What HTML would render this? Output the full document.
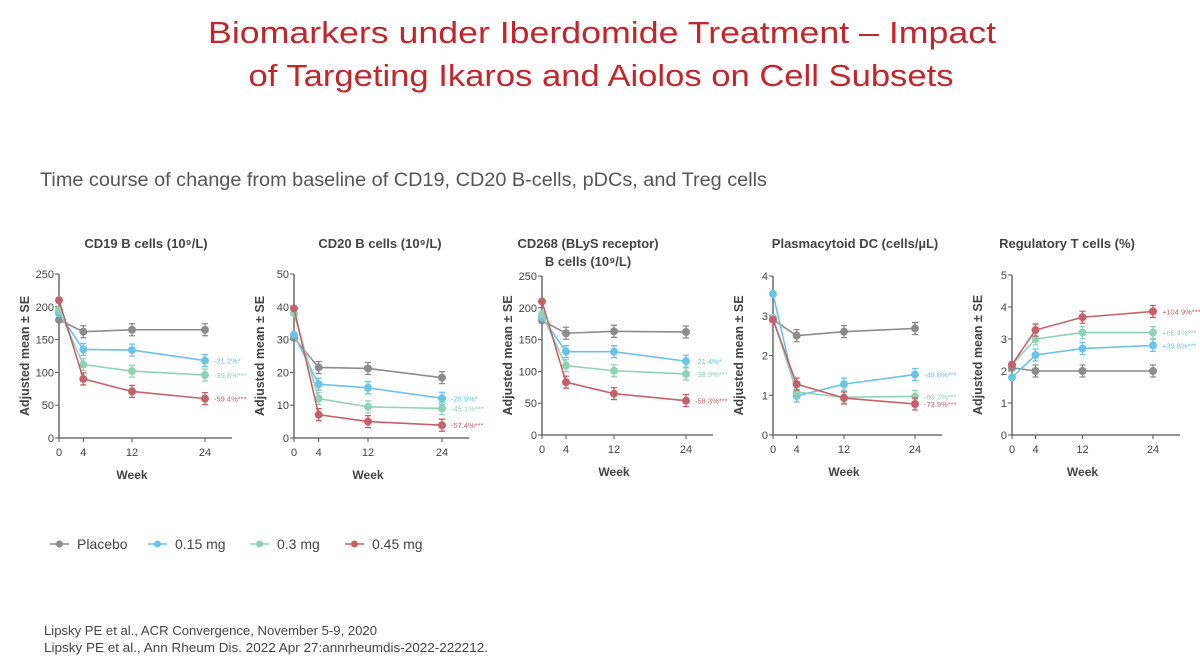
<!DOCTYPE html>
<html><head><meta charset="utf-8"><style>
html,body{margin:0;padding:0;background:#fff;width:1200px;height:663px;overflow:hidden}
svg{display:block;font-family:"Liberation Sans",sans-serif}
</style></head><body>
<svg id="s" width="1200" height="663" viewBox="0 0 1200 663">
<text x="602" y="43" text-anchor="middle" font-size="31" fill="#c0272d" textLength="788" lengthAdjust="spacingAndGlyphs">Biomarkers under Iberdomide Treatment – Impact</text>
<text x="601" y="86" text-anchor="middle" font-size="31" fill="#c0272d" textLength="705" lengthAdjust="spacingAndGlyphs">of Targeting Ikaros and Aiolos on Cell Subsets</text>
<text x="40" y="186" font-size="19" fill="#555" textLength="727" lengthAdjust="spacingAndGlyphs">Time course of change from baseline of CD19, CD20 B-cells, pDCs, and Treg cells</text>
<g id="charts"></g>
<g id="legend"></g>
<text x="44" y="635" font-size="12.5" fill="#444" textLength="333" lengthAdjust="spacingAndGlyphs">Lipsky PE et al., ACR Convergence, November 5-9, 2020</text>
<text x="44" y="652" font-size="12.5" fill="#444" textLength="444" lengthAdjust="spacingAndGlyphs">Lipsky PE et al., Ann Rheum Dis. 2022 Apr 27:annrheumdis-2022-222212.</text>
</svg>
<script>
const weeks=[0,4,12,24];
const seriesNames=["Placebo","0.15 mg","0.3 mg","0.45 mg"];
const seriesColors=["#8c8c8c","#6cc3e6","#90d2b6","#c4626c"];
const cd19Placebo=[180,162,165,165], cd19Low=[190,135,134,118], cd19Mid=[195,112,102,96], cd19High=[210,90,71,60];
const cd20Placebo=[30.5,21.5,21.2,18.4], cd20Low=[31.5,16.4,15.3,12.1], cd20Mid=[38,12,9.5,9], cd20High=[39.5,7.1,5,3.9];
const cd268Placebo=[180,160,163,162], cd268Low=[185,131,131,116], cd268Mid=[190,109,101,96], cd268High=[210,83,65,54];
const pdcPlacebo=[2.9,2.5,2.6,2.68], pdcLow=[3.55,0.98,1.28,1.52], pdcMid=[2.95,1.08,0.95,0.97], pdcHigh=[2.9,1.28,0.93,0.78];
const tregPlacebo=[2.1,2.0,2.0,2.0], tregLow=[1.8,2.5,2.7,2.8], tregMid=[2.2,3.0,3.2,3.2], tregHigh=[2.2,3.28,3.68,3.86];
const cd19Labels=["-21.2%*","-39.8%***","-59.4%***"];
const cd20Labels=["-28.9%*","-45.1%***","-57.4%***"];
const cd268Labels=["-21.4%*","-38.9%***","-58.3%***"];
const pdcLabels=["-49.8%***","-69.3%***","-73.9%***"];
const tregLabels=["+39.8%***","+66.4%***","+104.9%***"];
const cd19Ticks=[0,50,100,150,200,250], cd20Ticks=[0,10,20,30,40,50], pdcTicks=[0,1,2,3,4], tregTicks=[0,1,2,3,4,5];

const panels=[
 {name:"cd19",title:["CD19 B cells (10⁹/L)"],ax:59,ax24:205,top:274,bot:438,max:250,ticks:cd19Ticks,data:[cd19Placebo,cd19Low,cd19Mid,cd19High],labels:cd19Labels,tx:146},
 {name:"cd20",title:["CD20 B cells (10⁹/L)"],ax:294,ax24:442,top:274,bot:438,max:50,ticks:cd20Ticks,data:[cd20Placebo,cd20Low,cd20Mid,cd20High],labels:cd20Labels,tx:380},
 {name:"cd268",title:["CD268 (BLyS receptor)","B cells (10⁹/L)"],ax:542,ax24:686,top:276,bot:435,max:250,ticks:cd19Ticks,data:[cd268Placebo,cd268Low,cd268Mid,cd268High],labels:cd268Labels,tx:588},
 {name:"pdc",title:["Plasmacytoid DC (cells/µL)"],ax:773,ax24:915,top:276,bot:435,max:4,ticks:pdcTicks,data:[pdcPlacebo,pdcLow,pdcMid,pdcHigh],labels:pdcLabels,tx:855},
 {name:"treg",title:["Regulatory T cells (%)"],ax:1012,ax24:1153,top:275,bot:435,max:5,ticks:tregTicks,data:[tregPlacebo,tregLow,tregMid,tregHigh],labels:tregLabels,tx:1067}
];
const NS="http://www.w3.org/2000/svg";
function mk(t,a,p){const e=document.createElementNS(NS,t);for(const k in a)e.setAttribute(k,a[k]);p.appendChild(e);return e;}
const root=document.getElementById('charts');
panels.forEach(P=>{
 const g=mk('g',{},root);
 
 
 const xs=w=>P.ax+(P.ax24-P.ax)*w/24;
 const ys=v=>P.bot-(P.bot-P.top)*v/P.max;
 P.title.forEach((t,i)=>{const e=mk('text',{x:P.tx,y:248+i*18,'text-anchor':'middle','font-size':13,'font-weight':'bold',fill:'#444'},g);e.textContent=t;
  
  });
 const axis=mk('path',{d:`M${P.ax} ${P.top}V${P.bot}H${P.ax24+27}`,stroke:'#555','stroke-width':1.3,fill:'none'},g);
 
 
 P.ticks.forEach(t=>{const y=ys(t);mk('line',{x1:P.ax-4,x2:P.ax,y1:y,y2:y,stroke:'#555'},g);
  const e=mk('text',{x:P.ax-5,y:y+4,'text-anchor':'end','font-size':11,fill:'#444'},g);e.textContent=t;
  
  });
 weeks.forEach(w=>{const x=xs(w);mk('line',{x1:x,x2:x,y1:P.bot,y2:P.bot+4,stroke:'#555'},g);
  const e=mk('text',{x:x,y:P.bot+18,'text-anchor':'middle','font-size':11,fill:'#444'},g);e.textContent=w;
  
  });
 const wl=mk('text',{x:(P.ax+P.ax24)/2,y:P.bot+41,'text-anchor':'middle','font-size':12,'font-weight':'bold',fill:'#444'},g);wl.textContent='Week';
 
 
 const yl=mk('text',{transform:`translate(${P.ax-30},${(P.top+P.bot)/2}) rotate(-90)`,'text-anchor':'middle','font-size':12.5,'font-weight':'bold',fill:'#444'},g);yl.textContent='Adjusted mean ± SE';
 
 
 P.data.forEach((d,si)=>{
  const c=seriesColors[si];
  const sg=mk('g',{},g);
  
  
  mk('polyline',{points:d.map((v,i)=>xs(weeks[i])+','+ys(v)).join(' '),fill:'none',stroke:c,'stroke-width':1.6},sg);
  d.forEach((v,i)=>{const x=xs(weeks[i]),y=ys(v);
   if(i>0){mk('path',{d:`M${x} ${y-6}V${y+6}M${x-3} ${y-6}h6M${x-3} ${y+6}h6`,stroke:c,'stroke-width':1.3},sg);}
   const pt=mk('circle',{cx:x,cy:y,r:4,fill:c},sg);
   
   });
  if(si>0){const e=mk('text',{x:xs(24)+9,y:ys(d[3])+3,'font-size':7.5,fill:c},sg);e.textContent=P.labels[si-1];
   
   }
 });
});
const lg=document.getElementById('legend');
const lx=[50,148,250,345];
seriesNames.forEach((n,i)=>{
 const it=mk('g',{},lg);
 
 
 mk('line',{x1:lx[i],x2:lx[i]+19,y1:544,y2:544,stroke:seriesColors[i],'stroke-width':1.6},it);
 mk('circle',{cx:lx[i]+9.5,cy:544,r:3.5,fill:seriesColors[i]},it);
 const t=mk('text',{x:lx[i]+27,y:549,'font-size':14,fill:'#444'},it);t.textContent=n;
});
</script>
</body></html>
